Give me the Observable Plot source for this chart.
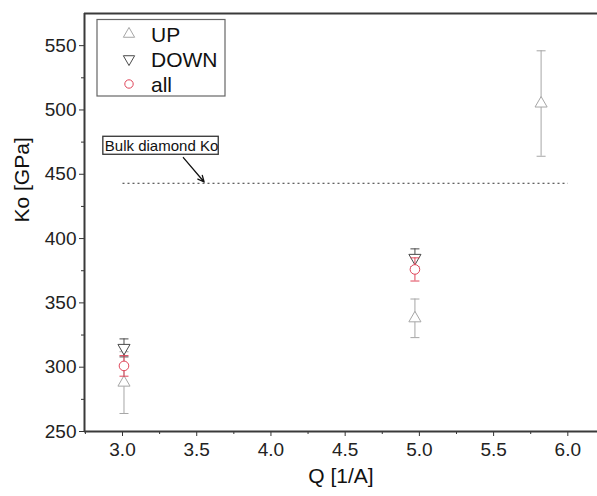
<!DOCTYPE html>
<html>
<head>
<meta charset="utf-8">
<script src="https://cdn.jsdelivr.net/npm/d3@7"></script>
<script src="https://cdn.jsdelivr.net/npm/@observablehq/plot@0.6"></script>
<style>
  html, body { margin: 0; padding: 0; background: #fff; }
  #chart svg { display: block; }
</style>
</head>
<body>
<div id="chart"></div>
<script>
// ---- data ----
const upQ = [3.01, 4.97, 5.82];
const upK = [288, 338, 505];
const upErr = [24, 15, 41];

const downQ = [3.01, 4.97];
const downK = [315, 385];
const downErr = [7, 7];

const allQ = [3.01, 4.97];
const allK = [301, 376];
const allErr = [8, 9];

const bulkK = 443;
const bulkQ = [3.0, 6.0];
const bulkLabel = "Bulk diamond Ko";
const bulkLabelQ = 3.263, bulkLabelK = 472;
const arrowFrom = [3.41, 463], arrowTo = [3.55, 444];

const xTicks = [3.0, 3.5, 4.0, 4.5, 5.0, 5.5, 6.0];
const xMinor = [2.75, 3.25, 3.75, 4.25, 4.75, 5.25, 5.75];
const yTicks = [250, 300, 350, 400, 450, 500, 550];
const yMinor = [275, 325, 375, 425, 475, 525];
const xDomain = [2.744, 6.2];
const yDomain = [250, 575];

const seriesNames = ["UP", "DOWN", "all"];
const colUp = "#a6a6a6", colDown = "#4a4a4a", colAll = "#e0465a";

const rows = (q, k, e) => q.map((v, i) => ({q: v, k: k[i], lo: k[i] - e[i], hi: k[i] + e[i]}));
const up = rows(upQ, upK, upErr);
const down = rows(downQ, downK, downErr);
const all = rows(allQ, allK, allErr);

const cap = { draw(ctx) { ctx.moveTo(-4.5, 0); ctx.lineTo(4.5, 0); } };

function bars(data, color) {
  return [
    Plot.ruleX(data, {x: "q", y1: "lo", y2: "hi", stroke: color, strokeWidth: 1}),
    Plot.dot(data, {x: "q", y: "lo", symbol: cap, r: 3, stroke: color, fill: "none", strokeWidth: 1}),
    Plot.dot(data, {x: "q", y: "hi", symbol: cap, r: 3, stroke: color, fill: "none", strokeWidth: 1})
  ];
}

const font = "'Liberation Sans', Arial, Helvetica, sans-serif";

const plot = Plot.plot({
  width: 597,
  height: 496,
  marginLeft: 84,
  marginTop: 13,
  marginRight: 0,
  marginBottom: 65,
  style: {fontFamily: font, fontSize: "19px", color: "#222", background: "#fff"},
  x: {domain: xDomain},
  y: {domain: yDomain},
  marks: [
    Plot.axisX({ticks: xTicks, tickFormat: d3.format(".1f"), tickSize: 5, tickPadding: 6, fontSize: 19,
      label: null, stroke: "#333"}),
    Plot.axisX({ticks: xMinor, tickSize: 3, text: null, label: null, stroke: "#333"}),
    Plot.axisY({ticks: yTicks, tickSize: 5, tickPadding: 3, fontSize: 19,
      label: null, stroke: "#333"}),
    Plot.axisY({ticks: yMinor, tickSize: 3, text: null, label: null, stroke: "#333"}),
    Plot.text(["Q [1/A]"], {frameAnchor: "bottom", dy: 51, text: d => d, fontSize: 21, fill: "#111", dx: 0}),
    Plot.text(["Ko [GPa]"], {frameAnchor: "left", dx: -62, rotate: -90, text: d => d, fontSize: 21, fill: "#111"}),
    Plot.ruleX([xDomain[0]], {stroke: "#3a3a3a", strokeWidth: 2}),
    Plot.ruleY([yDomain[0], yDomain[1]], {stroke: "#3a3a3a", strokeWidth: 2}),
    Plot.link([{x1: bulkQ[0], x2: bulkQ[1], y: bulkK}], {x1: "x1", x2: "x2", y1: "y", y2: "y",
      stroke: "#333", strokeWidth: 1, strokeDasharray: "2,3"}),
    Plot.arrow([{x1: arrowFrom[0], y1: arrowFrom[1], x2: arrowTo[0], y2: arrowTo[1]}],
      {x1: "x1", y1: "y1", x2: "x2", y2: "y2", stroke: "#111", strokeWidth: 1.3, headLength: 8, headAngle: 50}),
    Plot.text([bulkLabel], {x: bulkLabelQ, y: bulkLabelK, text: d => d, fontSize: 15, fill: "#111",
      className: "bulk-label"}),
    ...bars(up, colUp),
    Plot.dot(up, {x: "q", y: "k", symbol: "triangle", r: 4.5, stroke: colUp, fill: "#fff", strokeWidth: 1}),
    ...bars(down, colDown),
    Plot.dot(down, {x: "q", y: "k", symbol: "triangle", rotate: 180, r: 4.5, stroke: colDown, fill: "#fff", strokeWidth: 1}),
    ...bars(all, colAll),
    Plot.dot(all, {x: "q", y: "k", symbol: "circle", r: 4.8, stroke: colAll, fill: "#fff", strokeWidth: 1})
  ]
});

document.getElementById("chart").appendChild(plot);

// box around the annotation text
const svg = d3.select(plot);
const t = svg.select(".bulk-label text").node();
if (t) {
  const b = t.getBBox();
  d3.select(t.parentNode).insert("rect", "text")
    .attr("transform", t.getAttribute("transform"))
    .attr("x", b.x - 2).attr("y", b.y - 0.5).attr("width", b.width + 2).attr("height", b.height + 1)
    .attr("fill", "#fff").attr("stroke", "#333").attr("stroke-width", 1.3);
}

// legend inside plot frame
const lg = svg.append("g").attr("font-family", font).attr("font-size", 21).attr("text-anchor", "start");
lg.append("rect").attr("x", 97).attr("y", 19.5).attr("width", 128).attr("height", 76.5)
  .attr("fill", "#fff").attr("stroke", "#666").attr("stroke-width", 1.2);
const legendItems = [
  {name: seriesNames[0], sym: d3.symbolTriangle, rot: 0, color: colUp},
  {name: seriesNames[1], sym: d3.symbolTriangle, rot: 180, color: colDown},
  {name: seriesNames[2], sym: d3.symbolCircle, rot: 0, color: colAll}
];
legendItems.forEach((it, i) => {
  const cy = 34 + i * 25;
  lg.append("path").attr("d", d3.symbol(it.sym, Math.PI * 4.2 * 4.2)())
    .attr("transform", `translate(129,${cy}) rotate(${it.rot})`)
    .attr("fill", "none").attr("stroke", it.color).attr("stroke-width", 1);
  lg.append("text").attr("x", 151).attr("y", cy).attr("dy", "0.36em").attr("fill", "#111").text(it.name);
});
</script>
</body>
</html>
